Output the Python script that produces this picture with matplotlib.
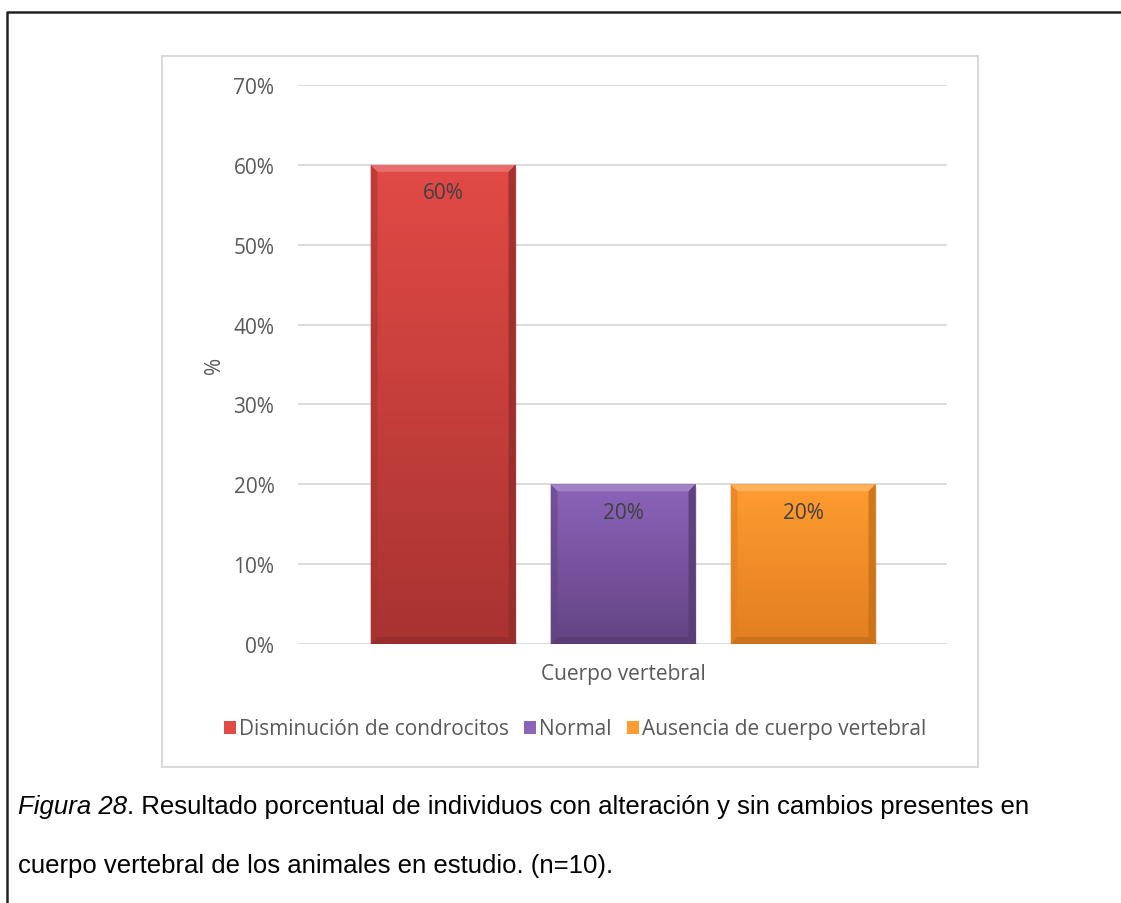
import numpy as np
import matplotlib
matplotlib.use('Agg')
from matplotlib import pyplot as plt
from matplotlib.patches import Rectangle, Polygon
from matplotlib.colors import LinearSegmentedColormap, to_rgb
from matplotlib.lines import Line2D

# data
category = 'Cuerpo vertebral'
series = ['Disminución de condrocitos', 'Normal', 'Ausencia de cuerpo vertebral']
values = [0.60, 0.20, 0.20]
yticks = [0, 0.1, 0.2, 0.3, 0.4, 0.5, 0.6, 0.7]

# colours (top, bottom) of each bar gradient
tops = ['#e24a46', '#8b64ba', '#fe9c32']
bottoms = ['#a83331', '#644383', '#e27e1f']

caption_it = 'Figura 28'
caption_1 = '. Resultado porcentual de individuos con alteración y sin cambios presentes en'
caption_2 = 'cuerpo vertebral de los animales en estudio. (n=10).'

W, H = 1121, 904
fig = plt.figure(figsize=(W / 100, H / 100), dpi=100)
fig.patch.set_facecolor('white')

chart_font = ['Open Sans', 'DejaVu Sans']
txt_col = '#595959'
fs = 15

ax = fig.add_axes([298 / W, 1 - 645 / H, 649 / W, 559 / H])
ax.set_facecolor('none')

xpos = np.array([-1.0, 0.0, 1.0])
width = 145 / 180

for v in yticks:
    ax.axhline(v, color='#d9d9d9', lw=1.3, zorder=0)

ax.set_xlim(-325 / 180, 324 / 180)
ax.set_ylim(0, 0.7)


def shade(c, f):
    r = np.array(to_rgb(c))
    if f > 0:
        return tuple(r + (1 - r) * f)
    return tuple(r * (1 + f))


bars = ax.bar(xpos, values, width=width, color=bottoms, edgecolor='none', zorder=2)
bx = 7 / 180
by = 0.7 * 7 / 559
for b, ct, cb, lab in zip(bars, tops, bottoms, series):
    x0, y0 = b.get_x(), b.get_y()
    w, h = b.get_width(), b.get_height()
    # faint shadow
    ax.add_patch(Rectangle((x0 + 0.01, y0 - 0.004), w, h, color='#000000',
                           alpha=0.1, zorder=1, lw=0))
    cmap = LinearSegmentedColormap.from_list('g', [cb, ct])
    grad = np.linspace(0, 1, 256).reshape(-1, 1)
    im = ax.imshow(grad, cmap=cmap, aspect='auto', origin='lower',
                   extent=(x0, x0 + w, y0, y0 + h), zorder=3)
    im.set_clip_path(b)
    # bevel edges
    ax.add_patch(Polygon([(x0, y0 + h), (x0 + w, y0 + h), (x0 + w - bx, y0 + h - by),
                          (x0 + bx, y0 + h - by)], color=shade(ct, 0.2), lw=0, zorder=4))
    ax.add_patch(Polygon([(x0 + w, y0 + h), (x0 + w, y0), (x0 + w - bx, y0 + by),
                          (x0 + w - bx, y0 + h - by)], color=shade(cb, -0.12), lw=0,
                         alpha=0.8, zorder=4))
    ax.add_patch(Polygon([(x0, y0 + h), (x0, y0), (x0 + bx, y0 + by),
                          (x0 + bx, y0 + h - by)], color=shade(cb, 0.0), lw=0,
                         alpha=0.6, zorder=4))
    ax.add_patch(Polygon([(x0, y0), (x0 + w, y0), (x0 + w - bx, y0 + by),
                          (x0 + bx, y0 + by)], color=shade(cb, -0.1), lw=0, zorder=4))
    ax.text(x0 + w / 2, y0 + h - 0.035, '{:.0f}%'.format(h * 100), ha='center',
            va='center', fontsize=fs, color='#404040', family=chart_font, zorder=5)

ax.set_xticks([0])
ax.set_xticklabels([category], family=chart_font, fontsize=fs, color=txt_col)
ax.set_yticks(yticks)
ax.set_yticklabels(['{:.0f}%'.format(v * 100) for v in yticks], family=chart_font,
                   fontsize=fs, color=txt_col)
ax.tick_params(axis='y', length=0, pad=17)
ax.tick_params(axis='x', length=0, pad=14)
for s in ax.spines.values():
    s.set_visible(False)
ax.set_ylabel('%', family=chart_font, fontsize=fs, color=txt_col, labelpad=6)

handles = [Rectangle((0, 0), 1, 1, facecolor=c, edgecolor='none') for c in tops]
leg = fig.legend(handles, series, loc='center', bbox_to_anchor=(575 / W, 1 - 730 / H),
                 ncol=3, frameon=False, handlelength=0.6, handleheight=0.6,
                 handletextpad=0.15, columnspacing=0.7,
                 prop={'family': chart_font, 'size': fs})
for t in leg.get_texts():
    t.set_color(txt_col)

# chart frame and page lines
fig.add_artist(Rectangle((162 / W, 1 - 768 / H), 816 / W, 711 / H, transform=fig.transFigure,
                         facecolor='none', edgecolor='#d9d9d9', lw=1.5))
fig.add_artist(Line2D([7 / W, 7 / W, 1.0], [0.0, 1 - 13 / H, 1 - 13 / H],
                      transform=fig.transFigure, color='#222222', lw=1.8))

# caption
cap_font = ['Liberation Sans', 'DejaVu Sans']
cfs = 18.5
t1 = fig.text(18 / W, 1 - 807 / H, caption_it, style='italic', family=cap_font,
              fontsize=cfs, va='center', color='black')
fig.canvas.draw()
bb = t1.get_window_extent()
fig.text(bb.x1 / W, 1 - 807 / H, caption_1, family=cap_font, fontsize=cfs,
         va='center', color='black')
fig.text(18 / W, 1 - 866 / H, caption_2, family=cap_font, fontsize=cfs,
         va='center', color='black')

plt.savefig('out.png', dpi=100)
